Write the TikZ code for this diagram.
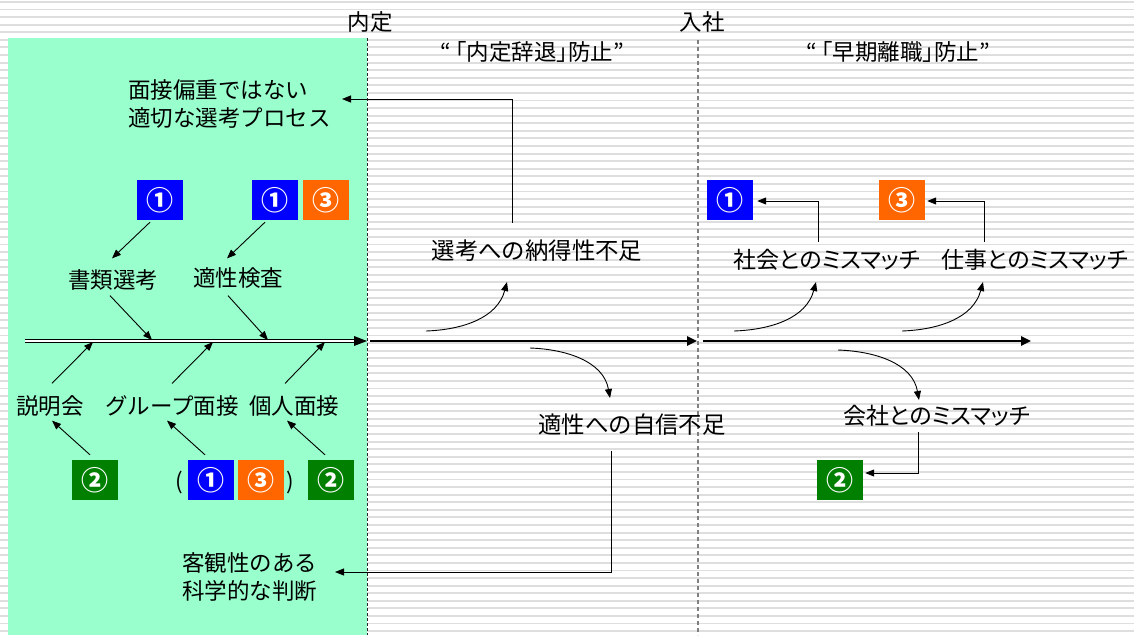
\documentclass[tikz,border=0pt]{standalone}
\usepackage{fontspec}
\newfontfamily\cjk{Noto Sans CJK JP}
\newfontfamily\cjkp[RawFeature=+palt]{Noto Sans CJK JP}
\usetikzlibrary{arrows.meta,calc}
\definecolor{mint}{HTML}{99FFCC}
\definecolor{stripe}{HTML}{DEDEDE}
\definecolor{bblue}{HTML}{0000FF}
\definecolor{borange}{HTML}{FF6600}
\definecolor{bgreen}{HTML}{007F00}
\tikzset{
  lbl/.style={font=\cjk\fontsize{22.5}{28}\selectfont, inner sep=0pt, text=black},
  plbl/.style={font=\cjkp\fontsize{23}{28}\selectfont, inner sep=0pt, text=black},
  badge/.style={minimum width=46pt, minimum height=40pt, inner sep=0pt, text=white,
    font=\cjk\bfseries\fontsize{27}{27}\selectfont},
  bblu/.style={badge, fill=bblue},
  bora/.style={badge, fill=borange},
  bgre/.style={badge, fill=bgreen},
  conn/.style={line width=0.9pt, -{Triangle[length=9pt,width=7pt]}},
  spine/.style={line width=2.4pt, -{Triangle[length=10pt,width=9pt]}},
}
\begin{document}
\begin{tikzpicture}[x=1pt,y=-1pt]
\useasboundingbox (0,0) rectangle (1134,635);
\fill[white] (0,0) rectangle (1134,635);
% stripes
\foreach \i in {0,...,83} \fill[stripe] (0,{1+\i*7.58}) rectangle (1134,{2.9+\i*7.58});
% green area
\fill[mint] (8,38) rectangle (367,635);
\draw[black!85, line width=0.8pt, dash pattern=on 3pt off 2pt] (367,38) -- (367,635);
\draw[gray, line width=1.3pt, dash pattern=on 4pt off 3pt] (698,40) -- (698,635);

% headers
\node[lbl] (naitei) at (370,22) {内定};
\node[lbl] (nyusha) at (702,22) {入社};
\node[lbl] (q1) at (532,52) {“\hspace{-0.3em}「内定辞退」\hspace{-0.5em}防止”};
\node[lbl] (q2) at (898,52) {“\hspace{-0.3em}「早期離職」\hspace{-0.5em}防止”};

% texts
\node[lbl, anchor=west, align=left] (proc) at (128,104) {面接偏重ではない\\適切な選考プロセス};
\node[lbl, anchor=west, align=left] (kyak) at (182,577) {客観性のある\\科学的な判断};
\node[lbl] (shorui) at (113,280) {書類選考};
\node[lbl] (tekisei) at (238,278) {適性検査};
\node[lbl] (setsu) at (50,406) {説明会};
\node[lbl] (group) at (172,406) {グループ面接};
\node[lbl] (kojin) at (294,406) {個人面接};
\node[lbl, font=\cjk\fontsize{23.4}{28}\selectfont] (natt) at (537,251) {選考への納得性不足};
\node[lbl, font=\cjk\fontsize{23.4}{28}\selectfont] (jishin) at (632,425) {適性への自信不足};
\node[plbl] (shakai) at (827,260) {社会とのミスマッチ};
\node[plbl] (shigoto) at (1035,260) {仕事とのミスマッチ};
\node[plbl] (kaisha) at (937,416) {会社とのミスマッチ};

% badges
\node[bblu] (b1) at (160,200) {①};
\node[bblu] (b2) at (275,200) {①};
\node[bora] (b3) at (326,200) {③};
\node[bgre] (b4) at (95,480) {②};
\node[lbl] (lp) at (179,482) {(};
\node[bblu] (b5) at (211,480) {①};
\node[bora] (b6) at (261,480) {③};
\node[lbl] (rp) at (290,482) {)};
\node[bgre] (b7) at (331,480) {②};
\node[bblu] (b8) at (730,200) {①};
\node[bora] (b9) at (902,200) {③};
\node[bgre] (b10) at (840,480) {②};

% spine
\coordinate (sA) at (25,341);
\coordinate (sB) at (367,341);
\coordinate (sC) at (370,341);
\coordinate (sD) at (697,341);
\coordinate (sE) at (703,341);
\coordinate (sF) at (1031,341);
\draw[line width=1.2pt, double=white, double distance=1.4pt] (sA) -- ($(sB)+(-10,0)$);
\fill (sB) -- ++(-13,-5) -- ++(0,10) -- cycle;
\draw[spine] (sC) -- (sD);
\draw[spine] (sE) -- (sF);

% spine points for bones
\coordinate (u1) at (152,340);
\coordinate (u2) at (268,340);
\coordinate (l1) at (93,342);
\coordinate (l2) at (213,342);
\coordinate (l3) at (325,342);

% bones
\draw[conn] ($(shorui.south)+(-3,5)$) -- (u1);
\draw[conn] ($(tekisei.south)+(-10,7)$) -- (u2);
\draw[conn] ($(setsu.north)+(2,-12)$) -- (l1);
\draw[conn] ($(group.north)+(0,-12)$) -- (l2);
\draw[conn] ($(kojin.north)+(-9,-12)$) -- (l3);

% badge arrows (top)
\draw[conn] ($(b1.south)+(-10,2)$) -- ($(shorui.north)+(-1,-11)$);
\draw[conn] ($(b2.south)+(-10,2)$) -- ($(tekisei.north)+(-11,-9)$);
% badge arrows (bottom)
\draw[conn] ($(b4.north)+(-5,-5)$) -- ($(setsu.south)+(2,4)$);
\draw[conn] ($(b5.north)+(-6,-5)$) -- ($(group.south)+(-5,4)$);
\draw[conn] ($(b7.north)+(-6,-5)$) -- ($(kojin.south)+(-7,4)$);

% curves from spine
\coordinate (c1) at (426,331);
\coordinate (c2) at (530,348);
\coordinate (c3) at (734,331);
\coordinate (c4) at (902,331);
\coordinate (c5) at (838,350);
\coordinate (t1) at (507,282);
\coordinate (t2) at (610,398);
\coordinate (t3) at (816,282);
\coordinate (t4) at (983,282);
\coordinate (t5) at (919,400);
\draw[conn] (c1) to[out=2, in=-105] (t1);
\draw[conn] (c2) to[out=-2, in=100] (t2);
\draw[conn] (c3) to[out=2, in=-105] (t3);
\draw[conn] (c4) to[out=2, in=-105] (t4);
\draw[conn] (c5) to[out=-2, in=100] (t5);

% elbows
\coordinate (procR) at (342,99);
\coordinate (kyakR) at (335,572);
\draw[conn] ($(natt.north)+(-25,-17)$) |- (procR);
\draw[conn] ($(jishin.south)+(-21,15)$) |- (kyakR);
\draw[conn] ($(shakai.north)+(-9,-7)$) |- ($(b8.east)+(4,1)$);
\draw[conn] ($(shigoto.north)+(-51,-7)$) |- ($(b9.east)+(2,1)$);
\draw[conn] ($(kaisha.south)+(-19,5)$) |- ($(b10.east)+(2,-7)$);
\end{tikzpicture}
\end{document}
